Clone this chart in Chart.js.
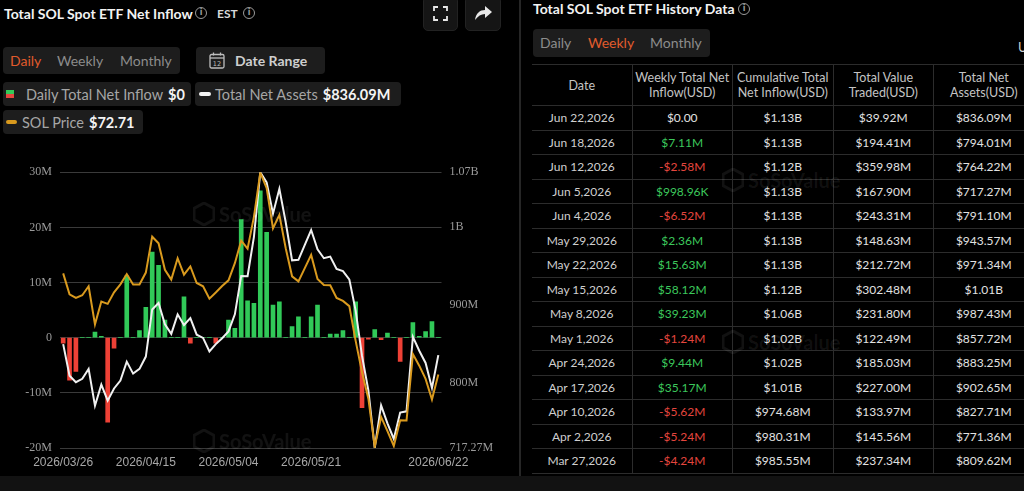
<!DOCTYPE html>
<html>
<head>
<meta charset="utf-8">
<script src="https://cdn.jsdelivr.net/npm/chart.js@4.4.0/dist/chart.umd.min.js"></script>
<style>
  html, body { margin: 0; padding: 0; background: #000; }
  body { width: 1024px; height: 491px; overflow: hidden; position: relative; font-family: Lato, "Noto Sans", sans-serif; color: #e6e6e6; }
  .abs { position: absolute; white-space: nowrap; }
  .title { font-weight: 700; font-size: 14px; line-height: 18px; color: #f2f2f2; }
  .info { width: 10px; height: 10px; border: 1.3px solid #9a9a9a; border-radius: 50%; font-size: 8px; line-height: 10px; text-align: center; color: #9a9a9a; font-weight: 700; font-family: "DejaVu Sans", sans-serif; }
  .box { background: #1d1d1d; border-radius: 4px; }
  .seg span { position: absolute; top: 0; font-size: 14px; line-height: 27px; color: #8c8c8c; }
  .seg span.on { color: #e15b2c; }
  .chip { display: flex; align-items: center; height: 24px; font-size: 14.5px; color: #a6a6a6; }
  .chip b { color: #f4f4f4; font-weight: 700; margin-left: 5px; font-size: 14.5px; }
  .btn { background: #151515; border-radius: 5px; border: 1px solid #222; }
  .wm { color: rgba(255,255,255,0.07); font-weight: 700; font-size: 20px; display: flex; align-items: center; gap: 4px; pointer-events: none; }
  #table { position: absolute; left: 532px; top: 64px; width: 503px; font-size: 12px; }
  .row { display: flex; border-top: 1px solid #2c2c2c; }
  .cell { width: 100.5px; flex: none; text-align: center; border-right: 1px solid #2c2c2c; box-sizing: border-box; }
  .hdr .cell { height: 40px; color: #c4c4c4; display: flex; align-items: center; justify-content: center; line-height: 15px; font-size: 12.5px; }
  .body .cell { height: 23.5px; line-height: 23.5px; color: #e2e2e2; }
  .body .cell.d { color: #cfcfcf; }
  .pos { color: #3cc85c !important; }
  .neg { color: #e5463e !important; }
</style>
</head>
<body>

<!-- left panel header -->
<div class="abs title" style="left:4px; top:5px;">Total SOL Spot ETF Net Inflow</div>
<div class="abs info" style="left:195px; top:7px;">i</div>
<div class="abs" style="left:217px; top:5px; font-size:12px; line-height:18px; font-weight:700; color:#d8d8d8;">EST</div>
<div class="abs info" style="left:243px; top:7px;">i</div>

<div class="abs btn" style="left:423px; top:-4px; width:33px; height:33px;">
  <svg width="33" height="33" viewBox="0 0 33 33" style="position:absolute;left:0;top:0">
    <g stroke="#e8e8e8" stroke-width="1.8" fill="none">
      <path d="M10 14 V10 H14"/><path d="M19 10 H23 V14"/><path d="M23 19 V23 H19"/><path d="M14 23 H10 V19"/>
    </g>
  </svg>
</div>
<div class="abs btn" style="left:465px; top:-4px; width:34px; height:33px;">
  <svg width="34" height="33" viewBox="0 0 34 33" style="position:absolute;left:0;top:0">
    <path d="M9 23 C10 16 14 13 19 13 V9 L26 15 L19 21 V17 C15 17 12 19 9 23 Z" fill="#e8e8e8"/>
  </svg>
</div>

<div class="abs box seg" style="left:3px; top:47px; width:177px; height:27px;">
  <span class="on" style="left:7px;">Daily</span>
  <span style="left:54px;">Weekly</span>
  <span style="left:117px;">Monthly</span>
</div>
<div class="abs box" style="left:196px; top:47px; width:129px; height:27px;">
  <svg width="16" height="17" viewBox="0 0 16 17" style="position:absolute; left:13px; top:5px;">
    <rect x="1" y="2.5" width="14" height="13.5" rx="1.5" fill="none" stroke="#bdbdbd" stroke-width="1.3"/>
    <line x1="1" y1="6" x2="15" y2="6" stroke="#bdbdbd" stroke-width="1.3"/>
    <line x1="4.5" y1="0.5" x2="4.5" y2="3.5" stroke="#bdbdbd" stroke-width="1.3"/>
    <line x1="11.5" y1="0.5" x2="11.5" y2="3.5" stroke="#bdbdbd" stroke-width="1.3"/>
    <text x="8" y="14" font-size="6.5" fill="#bdbdbd" text-anchor="middle" font-family="DejaVu Sans">12</text>
  </svg>
  <span style="position:absolute; left:39px; top:0; line-height:27px; font-size:14px; font-weight:700; color:#cfcfcf;">Date Range</span>
</div>

<div class="abs box chip" style="left:3px; top:82px; width:188px;">
  <span style="display:inline-block; width:8px; height:8px; margin-left:3px; margin-right:12px; background:linear-gradient(#33c957 0 50%, #e5463e 50% 100%);"></span>
  <span>Daily Total Net Inflow</span><b>$0</b>
</div>
<div class="abs box chip" style="left:195px; top:82px; width:206px;">
  <span style="display:inline-block; width:12px; height:4px; border-radius:2px; margin-left:4px; margin-right:4px; background:#f2f2f2;"></span>
  <span>Total Net Assets</span><b>$836.09M</b>
</div>
<div class="abs box chip" style="left:3px; top:110px; width:140px;">
  <span style="display:inline-block; width:11px; height:4px; border-radius:2px; margin-left:3px; margin-right:5px; background:#d99a1e;"></span>
  <span>SOL Price</span><b>$72.71</b>
</div>

<canvas id="chart" class="abs" width="515" height="321" style="left:0; top:157px; width:515px; height:321px;"></canvas>

<div class="abs wm" style="left:193px; top:202px;"><svg width="22" height="24" viewBox="0 0 22 24"><polygon points="11,1 21,6.5 21,17.5 11,23 1,17.5 1,6.5" fill="none" stroke="rgba(255,255,255,0.07)" stroke-width="3"/></svg>SoSoValue</div>
<div class="abs wm" style="left:193px; top:429px;"><svg width="22" height="24" viewBox="0 0 22 24"><polygon points="11,1 21,6.5 21,17.5 11,23 1,17.5 1,6.5" fill="none" stroke="rgba(255,255,255,0.07)" stroke-width="3"/></svg>SoSoValue</div>

<!-- divider -->
<div class="abs" style="left:519px; top:0; width:2px; height:476px; background:#262626;"></div>

<!-- right panel -->
<div class="abs title" style="left:533px; top:0px;">Total SOL Spot ETF History Data</div>
<div class="abs info" style="left:738px; top:3px;">i</div>
<div class="abs box seg" style="left:533px; top:29px; width:177px; height:28px;">
  <span style="left:7px; line-height:28px;">Daily</span>
  <span class="on" style="left:55px; line-height:28px;">Weekly</span>
  <span style="left:117px; line-height:28px;">Monthly</span>
</div>
<div class="abs" style="left:1018px; top:39px; font-size:13px; color:#cfcfcf;">U</div>

<div id="table"></div>

<div class="abs wm" style="left:722px; top:168px;"><svg width="22" height="24" viewBox="0 0 22 24"><polygon points="11,1 21,6.5 21,17.5 11,23 1,17.5 1,6.5" fill="none" stroke="rgba(255,255,255,0.07)" stroke-width="3"/></svg>SoSoValue</div>
<div class="abs wm" style="left:722px; top:330px;"><svg width="22" height="24" viewBox="0 0 22 24"><polygon points="11,1 21,6.5 21,17.5 11,23 1,17.5 1,6.5" fill="none" stroke="rgba(255,255,255,0.07)" stroke-width="3"/></svg>SoSoValue</div>

<div class="abs" style="left:0; top:476px; width:1024px; height:15px; background:#121212;"></div>

<script>
// daily chart data (values in millions of USD)
const dates = [
  "2026/03/26", "2026/03/27", "2026/03/30", "2026/03/31", "2026/04/01", "2026/04/02",
  "2026/04/06", "2026/04/07", "2026/04/08", "2026/04/09", "2026/04/10",
  "2026/04/13", "2026/04/14", "2026/04/15", "2026/04/16", "2026/04/17",
  "2026/04/20", "2026/04/21", "2026/04/22", "2026/04/23", "2026/04/24",
  "2026/04/27", "2026/04/28", "2026/04/29", "2026/04/30", "2026/05/01",
  "2026/05/04", "2026/05/05", "2026/05/06", "2026/05/07", "2026/05/08",
  "2026/05/11", "2026/05/12", "2026/05/13", "2026/05/14", "2026/05/15",
  "2026/05/18", "2026/05/19", "2026/05/20", "2026/05/21", "2026/05/22",
  "2026/05/26", "2026/05/27", "2026/05/28", "2026/05/29",
  "2026/06/01", "2026/06/02", "2026/06/03", "2026/06/04", "2026/06/05",
  "2026/06/08", "2026/06/09", "2026/06/10", "2026/06/11", "2026/06/12",
  "2026/06/15", "2026/06/16", "2026/06/17", "2026/06/18", "2026/06/22"
];
const tickDates = ["2026/03/26", "2026/04/15", "2026/05/04", "2026/05/21", "2026/06/22"];

const netInflow = [
  -1.0, -7.7, -6.1, 0, 0, 1.0,
  0.25, -15.3, -1.9, 0, 11.2,
  0, 1.3, 5.5, 15.5, 13.1,
  3.2, 0, 0, 7.4, -1.0,
  0, 0, 0, -1.0, 0,
  3.2, 1.7, 21.4, 6.7, 6.25,
  26.6, 19.1, 5.9, 6.5, 0,
  2.0, 3.8, 0, 3.8, 5.9,
  0, 0.65, 0.65, 1.3,
  0, 6.5, -12.7, -0.25, 1.45,
  -0.35, 0.85, 0, -4.3, 0,
  2.75, 0.25, 1.1, 2.9, 0
];

const totalNetAssets = [
  850.1, 809.6, 801.4, 805.7, 818.4, 771.4,
  798.3, 777.8, 793.4, 803.5, 827.7,
  812.4, 818.4, 834.2, 894.5, 902.7,
  875.5, 863.2, 888.2, 874.6, 883.3,
  862.2, 858.1, 840.7, 850.1, 857.7,
  866.4, 888.2, 937.3, 937.0, 987.4,
  1070, 1057, 1017, 1048.8, 1006,
  957.3, 957.9, 977, 996, 971.3,
  960, 962, 946.3, 943.6,
  933, 893, 835, 791.1, 717.27,
  771.8, 748.8, 728.9, 762.5, 764.2,
  859.4, 841.6, 826.0, 794.0, 836.09
];

const solPrice = [
  87.45, 84.41, 83.88, 84.27, 85.57, 80.03,
  83.36, 83.01, 84.70, 85.86, 87.35,
  85.82, 85.82, 87.57, 92.80, 91.83,
  87.98, 86.54, 89.66, 87.26, 88.46,
  86.05, 85.57, 83.76, 84.66, 85.61,
  86.44, 88.94, 92.22, 91.06, 95.69,
  102.13, 99.89, 94.0, 95.98, 91.11,
  87.02, 86.29, 88.22, 90.15, 86.65,
  85.77, 85.71, 83.88, 83.44,
  82.68, 77.62, 73.03, 69.19, 62.19,
  66.53, 64.46, 62.29, 66.05, 66.0,
  75.69, 74.0, 72.08, 69.06, 72.71
];

const flowTicks = [-20, -10, 0, 10, 20, 30];
const assetTicks = [717.27, 800, 900, 1000, 1070];

// weekly history table
const tableDates = ["Jun 22,2026", "Jun 18,2026", "Jun 12,2026", "Jun 5,2026", "Jun 4,2026", "May 29,2026", "May 22,2026", "May 15,2026", "May 8,2026", "May 1,2026", "Apr 24,2026", "Apr 17,2026", "Apr 10,2026", "Apr 2,2026", "Mar 27,2026"];
const tableWeeklyInflow = ["$0.00", "$7.11M", "-$2.58M", "$998.96K", "-$6.52M", "$2.36M", "$15.63M", "$58.12M", "$39.23M", "-$1.24M", "$9.44M", "$35.17M", "-$5.62M", "-$5.24M", "-$4.24M"];
const tableCumInflow = ["$1.13B", "$1.13B", "$1.12B", "$1.13B", "$1.13B", "$1.13B", "$1.13B", "$1.12B", "$1.06B", "$1.02B", "$1.02B", "$1.01B", "$974.68M", "$980.31M", "$985.55M"];
const tableValueTraded = ["$39.92M", "$194.41M", "$359.98M", "$167.90M", "$243.31M", "$148.63M", "$212.72M", "$302.48M", "$231.80M", "$122.49M", "$185.03M", "$227.00M", "$133.97M", "$145.56M", "$237.34M"];
const tableNetAssets = ["$836.09M", "$794.01M", "$764.22M", "$717.27M", "$791.10M", "$943.57M", "$971.34M", "$1.01B", "$987.43M", "$857.72M", "$883.25M", "$902.65M", "$827.71M", "$771.36M", "$809.62M"];
const tableHeaders = ["Date", "Weekly Total Net<br>Inflow(USD)", "Cumulative Total<br>Net Inflow(USD)", "Total Value<br>Traded(USD)", "Total Net<br>Assets(USD)"];

const green = "#31c958";
const red = "#ee4136";

// build the table
const tabla = document.getElementById("table");
let html = '<div class="row hdr">' + tableHeaders.map(h => '<div class="cell">' + h + '</div>').join("") + '</div>';
tableDates.forEach(function (d, i) {
    const w = tableWeeklyInflow[i];
    let cls = "";
    if (w.startsWith("-")) cls = " neg";
    else if (w !== "$0.00") cls = " pos";
    html += '<div class="row body">' +
        '<div class="cell d">' + d + '</div>' +
        '<div class="cell' + cls + '">' + w + '</div>' +
        '<div class="cell">' + tableCumInflow[i] + '</div>' +
        '<div class="cell">' + tableValueTraded[i] + '</div>' +
        '<div class="cell">' + tableNetAssets[i] + '</div>' +
        '</div>';
});
html += '<div class="row" style="height:0"></div>';
tabla.innerHTML = html;

// chart
const ctx = document.getElementById("chart").getContext("2d");
new Chart(ctx, {
    data: {
        labels: dates,
        datasets: [
            {
                type: "line",
                label: "SOL Price",
                data: solPrice,
                yAxisID: "yPrice",
                borderColor: "#d99a1e",
                borderWidth: 2,
                pointRadius: 0,
                tension: 0,
                order: 0
            },
            {
                type: "line",
                label: "Total Net Assets",
                data: totalNetAssets,
                yAxisID: "yAssets",
                borderColor: "#f0f0f0",
                borderWidth: 2,
                pointRadius: 0,
                tension: 0,
                order: 1
            },
            {
                type: "bar",
                label: "Daily Total Net Inflow",
                data: netInflow,
                yAxisID: "yFlow",
                backgroundColor: netInflow.map(v => v >= 0 ? green : red),
                barThickness: 4,
                order: 2
            }
        ]
    },
    options: {
        responsive: false,
        animation: false,
        layout: { padding: { top: 7, left: 0, right: 0, bottom: 0 } },
        plugins: {
            legend: { display: false },
            tooltip: { enabled: false }
        },
        scales: {
            x: {
                grid: { display: false, drawTicks: false },
                border: { display: false },
                ticks: {
                    autoSkip: false,
                    maxRotation: 0,
                    padding: 7,
                    color: "#a8a8a8",
                    font: { family: "Liberation Sans", size: 12 },
                    callback: function (val, i) {
                        return tickDates.includes(dates[i]) ? dates[i] : "";
                    }
                },
                afterFit: function (s) { s.height = 30; }
            },
            yFlow: {
                position: "left",
                min: -20,
                max: 30,
                grid: { color: "#3a3a3a", drawTicks: false },
                border: { display: false },
                ticks: {
                    padding: 8,
                    color: "#9a9a9a",
                    font: { family: "Liberation Serif", size: 12 },
                    callback: v => v === 0 ? "0" : v + "M"
                },
                afterBuildTicks: function (s) { s.ticks = flowTicks.map(v => ({ value: v })); },
                afterFit: function (s) { s.width = 60; }
            },
            yAssets: {
                position: "right",
                min: 717.27,
                max: 1070,
                grid: { display: false, drawTicks: false },
                border: { display: false },
                ticks: {
                    padding: 8,
                    color: "#9a9a9a",
                    font: { family: "Liberation Serif", size: 12 },
                    callback: v => v >= 1000 ? (v / 1000) + "B" : v + "M"
                },
                afterBuildTicks: function (s) { s.ticks = assetTicks.map(v => ({ value: v })); },
                afterFit: function (s) { s.width = 73.5; }
            },
            yPrice: {
                display: false,
                min: 62,
                max: 102.2
            }
        }
    }
});
</script>
</body>
</html>
